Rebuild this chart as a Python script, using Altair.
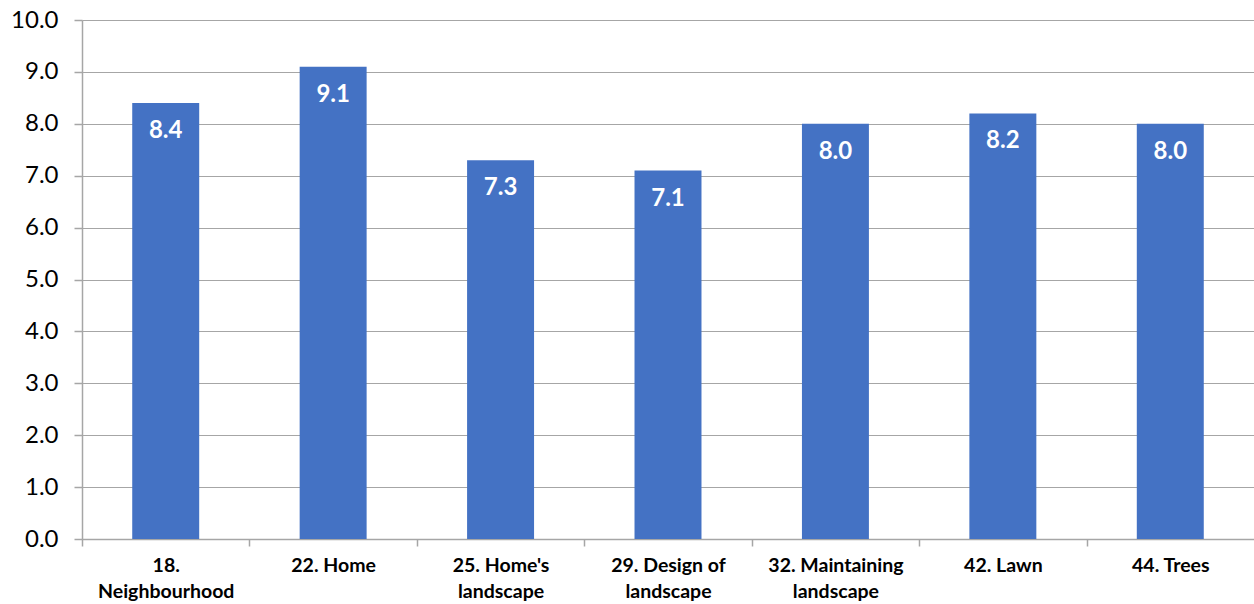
import altair as alt
import pandas as pd

categories = ["18.|Neighbourhood", "22. Home", "25. Home's|landscape", "29. Design of|landscape",
              "32. Maintaining|landscape", "42. Lawn", "44. Trees"]
values = [8.4, 9.1, 7.3, 7.1, 8.0, 8.2, 8.0]

df = pd.DataFrame({"cat": categories, "val": values, "lab": [f"{v:.1f}" for v in values]})

FONT = "Lato"
GRID = "#A6A6A6"
PLOT_W = 1172
STEP = PLOT_W / len(categories)

x = alt.X("cat:N", sort=categories, title=None,
          scale=alt.Scale(paddingInner=0.6, paddingOuter=0.3),
          axis=alt.Axis(labelAngle=0, labelExpr="split(datum.label, '|')",
                        labelFont=FONT, labelFontSize=19.5, labelFontWeight="bold",
                        labelColor="#000000", labelLineHeight=26, labelPadding=10,
                        tickOffset=-STEP / 2, labelOffset=STEP / 2,
                        tickColor=GRID, tickSize=7, tickWidth=1.5,
                        domainColor=GRID, domainWidth=1.5, labelBaseline="top"))
y = alt.Y("val:Q", title=None,
          scale=alt.Scale(domain=[0, 10], nice=False),
          axis=alt.Axis(values=[0, 1, 2, 3, 4, 5, 6, 7, 8, 9, 10], format=".1f",
                        labelFont=FONT, labelFontSize=24, labelColor="#000000",
                        labelPadding=16, tickColor=GRID, tickSize=8, tickWidth=1.5,
                        gridColor=GRID, gridWidth=1.2, domainColor=GRID, domainWidth=1.5))

bars = alt.Chart(df).mark_bar(color="#4472C4").encode(x=x, y=y)
text = alt.Chart(df).mark_text(color="white", font=FONT, fontSize=24, fontWeight="bold",
                               baseline="middle", dy=28).encode(
    x=alt.X("cat:N", sort=categories), y="val:Q", text="lab:N")

chart = (bars + text).properties(
    width=PLOT_W, height=519,
    autosize=alt.AutoSizeParams(type="none"),
    padding={"left": 82, "top": 20, "right": 0, "bottom": 65},
).configure_view(stroke=None).configure(background="white")

chart.save("out.html", embed_options={"renderer": "svg", "actions": False})
